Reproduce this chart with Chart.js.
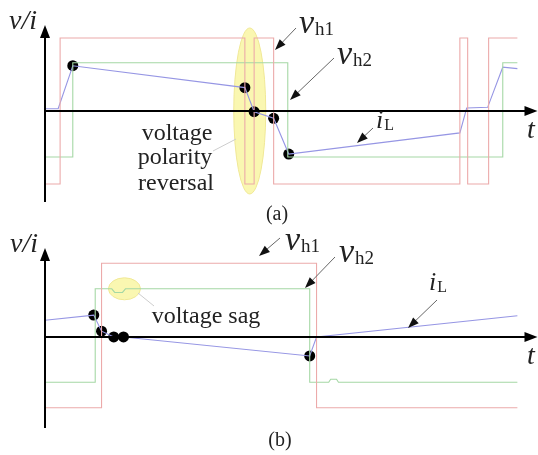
<!DOCTYPE html>
<html>
<head>
<meta charset="utf-8">
<script src="https://cdn.jsdelivr.net/npm/chart.js@4.4.0/dist/chart.umd.min.js"></script>
<style>
  body { margin: 0; background: #fff; }
  #wrap { position: relative; width: 538px; height: 455px; }
  canvas { position: absolute; left: 0; }
  #cA { top: 0; }
  #cB { top: 225px; }
</style>
</head>
<body>
<div id="wrap">
  <canvas id="cA" width="538" height="225"></canvas>
  <canvas id="cB" width="538" height="230"></canvas>
</div>
<script>
// panel (a) - voltage polarity reversal
const timeA_vh1 = [0, 3.1, 3.1, 41.0, 41.0, 42.9, 42.9, 46.9, 46.9, 85.1, 85.1, 86.7, 86.7, 91.0, 91.0, 96.9];
const valA_vh1  = [-1, -1, 1, 1, -1, -1, 1, 1, -1, -1, 1, 1, -1, -1, 1, 1];
const timeA_vh2 = [0, 5.7, 5.7, 49.8, 49.8, 93.9, 93.9, 96.9];
const valA_vh2  = [-0.63, -0.63, 0.66, 0.66, -0.63, -0.63, 0.66, 0.66];
const timeA_iL  = [0, 2.7, 5.7, 41.0, 42.9, 46.9, 50.0, 85.1, 86.5, 90.8, 93.9, 96.9];
const valA_iL   = [0.03, 0.03, 0.62, 0.32, -0.01, -0.10, -0.59, -0.30, 0.04, 0.05, 0.60, 0.58];
const timeA_dots = [5.7, 41.0, 42.9, 46.9, 50.0];
const valA_dots  = [0.62, 0.32, -0.01, -0.10, -0.59];

// panel (b) - voltage sag
const timeB_vh1 = [0, 11.6, 11.6, 55.7, 55.7, 96.9];
const valB_vh1  = [-0.97, -0.97, 1.01, 1.01, -0.97, -0.97];
const timeB_vh2 = [0, 10.3, 10.3, 13.7, 14.3, 15.9, 16.5, 54.3, 54.3, 58.2, 58.6, 59.8, 60.2, 96.9];
const valB_vh2  = [-0.62, -0.62, 0.66, 0.66, 0.61, 0.61, 0.66, 0.66, -0.62, -0.62, -0.58, -0.58, -0.62, -0.62];
const timeB_iL  = [0, 10.0, 11.6, 14.1, 16.1, 54.3, 55.7, 96.9];
const valB_iL   = [0.23, 0.30, 0.08, 0.0, 0.0, -0.26, 0.0, 0.29];
const timeB_dots = [10.0, 11.6, 14.1, 16.1, 54.3];
const valB_dots  = [0.30, 0.08, 0.0, 0.0, -0.26];

const RED = 'rgb(236,170,170)';
const GREEN = 'rgb(165,216,165)';
const BLUE = 'rgb(150,150,228)';
const SERIF = '"Liberation Serif", "DejaVu Serif", serif';

function pts(ts, vs) {
  return ts.map((t, i) => ({ x: t, y: vs[i] }));
}

function lineSet(label, ts, vs, color) {
  return {
    label, data: pts(ts, vs), showLine: true, borderColor: color,
    borderWidth: 1.1, pointRadius: 0, tension: 0
  };
}

function dotSet(ts, vs) {
  return {
    label: 'dots', data: pts(ts, vs), showLine: false,
    pointRadius: 5.5, pointBackgroundColor: '#000', pointBorderColor: '#000', pointBorderWidth: 0
  };
}

function arrow(ctx, x1, y1, x2, y2, head, wid) {
  const a = Math.atan2(y2 - y1, x2 - x1);
  ctx.beginPath();
  ctx.moveTo(x1, y1);
  ctx.lineTo(x2 - Math.cos(a) * head * 0.8, y2 - Math.sin(a) * head * 0.8);
  ctx.stroke();
  ctx.beginPath();
  ctx.moveTo(x2, y2);
  ctx.lineTo(x2 - Math.cos(a) * head + Math.sin(a) * wid / 2, y2 - Math.sin(a) * head - Math.cos(a) * wid / 2);
  ctx.lineTo(x2 - Math.cos(a) * head - Math.sin(a) * wid / 2, y2 - Math.sin(a) * head + Math.cos(a) * wid / 2);
  ctx.closePath();
  ctx.fill();
}

function label(ctx, main, sub, x, y, mainSize, subSize) {
  ctx.textBaseline = 'alphabetic';
  ctx.textAlign = 'left';
  ctx.font = 'italic ' + mainSize + 'px ' + SERIF;
  ctx.fillText(main, x, y);
  const w = ctx.measureText(main).width;
  ctx.font = subSize + 'px ' + SERIF;
  ctx.fillText(sub, x + w + 1, y + 2);
}

function axesPlugin(notes) {
  return {
    id: 'axes',
    beforeDatasetsDraw(chart) {
      const ctx = chart.ctx, xs = chart.scales.x, ys = chart.scales.y;
      ctx.save();
      notes.ellipses.forEach(e => {
        ctx.beginPath();
        ctx.ellipse(xs.getPixelForValue(e.t), ys.getPixelForValue(e.v), e.rx, e.ry, 0, 0, Math.PI * 2);
        ctx.fillStyle = 'rgba(250,246,168,0.9)';
        ctx.fill();
        ctx.strokeStyle = 'rgb(240,232,150)';
        ctx.lineWidth = 1;
        ctx.stroke();
      });
      ctx.restore();
    },
    afterDatasetsDraw(chart) {
      const ctx = chart.ctx, xs = chart.scales.x, ys = chart.scales.y;
      const area = chart.chartArea;
      const x0 = xs.getPixelForValue(0), y0 = ys.getPixelForValue(0);
      ctx.save();
      ctx.strokeStyle = '#000';
      ctx.fillStyle = '#000';
      ctx.lineWidth = 2;
      arrow(ctx, x0, area.bottom, x0, area.top, 13, 10);
      arrow(ctx, x0, y0, chart.width - 0.5, y0, 13, 10);

      // leader and pointer arrows
      ctx.lineWidth = 1;
      ctx.strokeStyle = 'rgb(205,205,205)';
      notes.leaders.forEach(l => {
        ctx.beginPath(); ctx.moveTo(l[0], l[1]); ctx.lineTo(l[2], l[3]); ctx.stroke();
      });
      ctx.strokeStyle = '#666';
      ctx.fillStyle = '#111';
      notes.arrows.forEach(a => arrow(ctx, a[0], a[1], a[2], a[3], 11, 8));

      ctx.fillStyle = '#222';
      ctx.font = 'italic 28px ' + SERIF;
      ctx.textAlign = 'left';
      ctx.fillText('v/i', notes.axisLabel[0], notes.axisLabel[1]);
      ctx.fillText('t', notes.tLabel[0], notes.tLabel[1]);
      notes.labels.forEach(l => label(ctx, l.main, l.sub, l.x, l.y, l.size, l.subSize));
      ctx.font = '24px ' + SERIF;
      ctx.textAlign = 'center';
      notes.texts.forEach(t => ctx.fillText(t.text, t.x, t.y));
      ctx.font = '20px ' + SERIF;
      ctx.fillText(notes.caption[0], notes.caption[1], notes.caption[2]);
      ctx.restore();
    }
  };
}

function makeChart(id, sets, yMin, yMax, pad, notes) {
  return new Chart(document.getElementById(id), {
    type: 'scatter',
    data: { datasets: sets },
    options: {
      responsive: false,
      animation: false,
      devicePixelRatio: 1,
      layout: { padding: pad },
      scales: {
        x: { type: 'linear', min: 0, max: 100, display: false },
        y: { type: 'linear', min: yMin, max: yMax, display: false }
      },
      plugins: { legend: { display: false }, tooltip: { enabled: false } }
    },
    plugins: [axesPlugin(notes)]
  });
}

makeChart('cA', [
  lineSet('vh1', timeA_vh1, valA_vh1, RED),
  lineSet('vh2', timeA_vh2, valA_vh2, GREEN),
  lineSet('iL', timeA_iL, valA_iL, BLUE),
  dotSet(timeA_dots, valA_dots)
], -1.247, 1.178, { left: 45, right: 3, top: 25, bottom: 23 }, {
  ellipses: [{ t: 42.0, v: 0, rx: 16, ry: 83 }],
  leaders: [[213, 151, 236, 139]],
  arrows: [[296, 28, 275, 50], [334, 58, 290, 100], [373, 128, 357, 143]],
  axisLabel: [9, 29],
  tLabel: [527, 138],
  labels: [
    { main: 'v', sub: 'h1', x: 299, y: 33, size: 34, subSize: 19 },
    { main: 'v', sub: 'h2', x: 337, y: 64, size: 34, subSize: 19 },
    { main: 'i', sub: 'L', x: 376, y: 128, size: 26, subSize: 16 }
  ],
  texts: [
    { text: 'voltage', x: 177, y: 140 },
    { text: 'polarity', x: 175, y: 164 },
    { text: 'reversal', x: 176, y: 190 }
  ],
  caption: ['(a)', 277, 220]
});

makeChart('cB', [
  lineSet('vh1', timeB_vh1, valB_vh1, RED),
  lineSet('vh2', timeB_vh2, valB_vh2, GREEN),
  lineSet('iL', timeB_iL, valB_iL, BLUE),
  dotSet(timeB_dots, valB_dots)
], -1.247, 1.219, { left: 45, right: 3, top: 23, bottom: 27 }, {
  ellipses: [{ t: 16.3, v: 0.66, rx: 16, ry: 11 }],
  leaders: [[138, 68, 154, 81]],
  arrows: [[280, 13, 259, 31], [335, 32, 305, 63], [437, 75, 408, 103]],
  axisLabel: [10, 27],
  tLabel: [527, 139],
  labels: [
    { main: 'v', sub: 'h1', x: 285, y: 25, size: 34, subSize: 19 },
    { main: 'v', sub: 'h2', x: 339, y: 37, size: 34, subSize: 19 },
    { main: 'i', sub: 'L', x: 429, y: 65, size: 26, subSize: 16 }
  ],
  texts: [
    { text: 'voltage sag', x: 206, y: 98 }
  ],
  caption: ['(b)', 280, 221]
});
</script>
</body>
</html>
